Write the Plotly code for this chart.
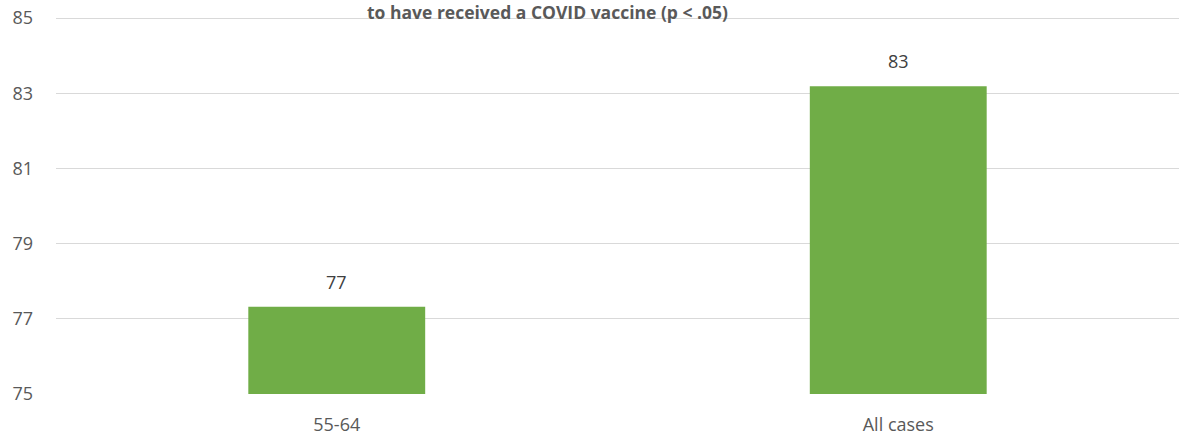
import plotly.graph_objects as go

categories = ["55-64", "All cases"]
values = [77.32, 83.19]
value_labels = ["77", "83"]
y_ticks = [75, 77, 79, 81, 83, 85]
title_text = "to have received a COVID vaccine (p < .05)"

bar_color = "#70AD47"
text_color = "#595959"
grid_color = "#D9D9D9"
font_family = "Open Sans, Liberation Sans, sans-serif"

fig = go.Figure(
    go.Bar(
        x=categories,
        y=values,
        marker=dict(color=bar_color, line=dict(width=0)),
        hoverinfo="skip",
    )
)

for c, v, lab in zip(categories, values, value_labels):
    fig.add_annotation(
        x=c, y=v, text=lab, showarrow=False,
        yanchor="bottom", yshift=11,
        font=dict(family=font_family, size=18, color="#404040"),
    )

fig.add_annotation(
    xref="paper", yref="paper", x=0.4377, y=1, yanchor="middle", yshift=5,
    text="<b>" + title_text + "</b>", showarrow=False,
    font=dict(family=font_family, size=17.5, color=text_color),
)

fig.update_layout(
    width=1179, height=436,
    margin=dict(l=56, r=0, t=17, b=42, autoexpand=False),
    paper_bgcolor="white", plot_bgcolor="white",
    bargap=0.685,
    showlegend=False,
    font=dict(family=font_family, size=18, color=text_color),
)
fig.update_xaxes(
    showgrid=False, showline=False, zeroline=False, automargin=False,
    tickfont=dict(size=18, color=text_color),
    ticklabelstandoff=18,
)
fig.update_yaxes(
    range=[75, 85.03], tickvals=y_ticks, automargin=False,
    showgrid=True, gridcolor=grid_color, gridwidth=1,
    zeroline=False, showline=False,
    tickfont=dict(size=18, color=text_color),
    ticklabelstandoff=22,
)

fig.write_html(
    "out.html",
    config={"displayModeBar": False},
    post_script="document.body.style.margin='0px';document.body.style.overflow='hidden';",
)
